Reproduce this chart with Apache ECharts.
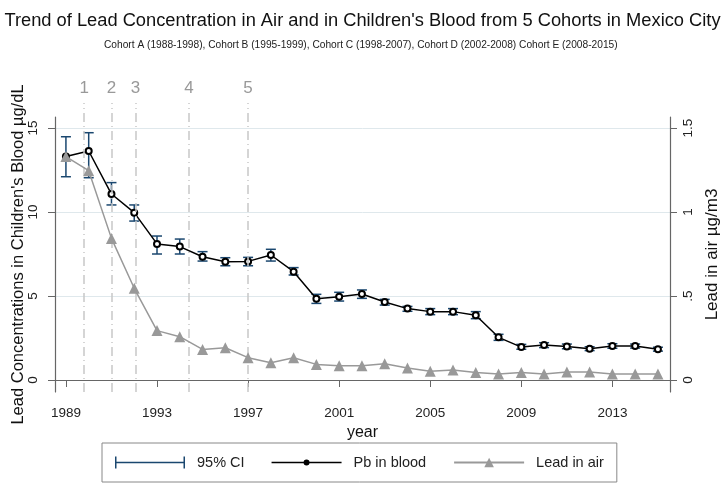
<!DOCTYPE html>
<html>
<head>
<meta charset="utf-8">
<script src="https://cdn.jsdelivr.net/npm/echarts@6/dist/echarts.min.js"></script>
<style>
  html, body { margin: 0; padding: 0; background: #fff; }
  #chart { width: 725px; height: 487px; }
</style>
</head>
<body>
<div id="chart"></div>
<script>
var years = [1989, 1990, 1991, 1992, 1993, 1994, 1995, 1996, 1997, 1998, 1999, 2000, 2001, 2002,
             2003, 2004, 2005, 2006, 2007, 2008, 2009, 2010, 2011, 2012, 2013, 2014, 2015];
var bloodPb = [13.3, 13.63, 11.07, 9.96, 8.10, 7.94, 7.34, 7.04, 7.06, 7.44, 6.45, 4.84, 4.96, 5.12,
               4.64, 4.25, 4.07, 4.07, 3.85, 2.54, 1.96, 2.08, 2.0, 1.86, 2.02, 2.02, 1.83];
var ciLow = [12.1, 12.04, 10.42, 9.46, 7.5, 7.5, 7.08, 6.8, 6.8, 7.08, 6.25, 4.56, 4.7, 4.86,
             4.46, 4.09, 3.89, 3.89, 3.65, 2.36, 1.83, 1.93, 1.86, 1.75, 1.89, 1.9, 1.72];
var ciHigh = [14.48, 14.72, 11.75, 10.42, 8.57, 8.39, 7.64, 7.28, 7.3, 7.78, 6.69, 5.1, 5.22, 5.36,
              4.8, 4.38, 4.25, 4.25, 4.07, 2.72, 2.12, 2.22, 2.14, 1.98, 2.16, 2.14, 1.95];
var airPb = [1.33, 1.246, 0.843, 0.546, 0.294, 0.258, 0.182, 0.192, 0.133, 0.103, 0.133, 0.093, 0.085, 0.085,
             0.097, 0.071, 0.052, 0.06, 0.044, 0.036, 0.044, 0.036, 0.048, 0.048, 0.036, 0.036, 0.036];

// cohort start markers
var cohortX = [1989.8, 1991, 1992.05, 1994.4, 1997];
var cohortLabels = ['1', '2', '3', '4', '5'];

var xTicks = [1989, 1993, 1997, 2001, 2005, 2009, 2013];
var leftTicks = [0, 5, 10, 15];
var rightTicks = [0, 0.5, 1, 1.5];

var font = 'Liberation Sans, Arial, sans-serif';
var axisColor = '#666';
var ciColor = '#1a476f';

var blood = years.map(function(y, i) { return [y, bloodPb[i]]; });
var air = years.map(function(y, i) { return [y, airPb[i]]; });
var ci = years.map(function(y, i) { return [y, ciLow[i], ciHigh[i]]; });

function renderCI(params, api) {
    var lo = api.coord([api.value(0), api.value(1)]);
    var hi = api.coord([api.value(0), api.value(2)]);
    var w = 5;
    var style = { stroke: ciColor, lineWidth: 1.5 };
    return {
        type: 'group',
        children: [
            { type: 'line', shape: { x1: lo[0], y1: lo[1], x2: hi[0], y2: hi[1] }, style: style },
            { type: 'line', shape: { x1: lo[0] - w, y1: lo[1], x2: lo[0] + w, y2: lo[1] }, style: style },
            { type: 'line', shape: { x1: hi[0] - w, y1: hi[1], x2: hi[0] + w, y2: hi[1] }, style: style }
        ]
    };
}

var chart = echarts.init(document.getElementById('chart'));

chart.setOption({
    backgroundColor: '#fff',
    animation: false,
    textStyle: { fontFamily: font },
    title: [{
        text: "Trend of Lead Concentration in Air and in Children's Blood from 5 Cohorts in Mexico City",
        left: 'center',
        top: 7,
        textStyle: { fontSize: 18.3, fontWeight: 'normal', color: '#111', fontFamily: font }
    }, {
        text: 'Cohort A (1988-1998), Cohort B (1995-1999), Cohort C (1998-2007), Cohort D (2002-2008) Cohort E (2008-2015)',
        left: 99,
        top: 35,
        textStyle: { fontSize: 10.2, fontWeight: 'normal', color: '#222', fontFamily: font }
    }],
    legend: {
        left: 102,
        top: 443,
        padding: [12, 13, 12, 13],
        itemWidth: 70,
        itemHeight: 12,
        itemGap: 27,
        borderColor: '#888',
        borderWidth: 1,
        textStyle: { fontSize: 14.5, color: '#222', padding: [0, 0, 0, 7] },
        data: [
            { name: '95% CI', icon: 'path://M0,0h1.5v12h-1.5z M0,5.25h70v1.5h-70z M68.5,0h1.5v12h-1.5z' },
            { name: 'Pb in blood', icon: 'path://M0,0Z M70,12Z M0,5.3h70v1.4h-70z M35,3a3,3 0 1,1 0,6a3,3 0 1,1 0,-6z' },
            'Lead in air'
        ]
    },
    grid: [
        { left: 55, right: 55, top: 117, bottom: 95, outerBoundsMode: 'none' },
        { left: 55, right: 55, top: 103, bottom: 95, outerBoundsMode: 'none' }
    ],
    xAxis: [{
        type: 'value',
        gridIndex: 0,
        min: 1988.52,
        max: 2015.53,
        name: 'year',
        nameLocation: 'middle',
        nameGap: 33,
        nameMoveOverlap: false,
        nameTextStyle: { fontSize: 16, color: '#111' },
        axisLine: { lineStyle: { color: axisColor, width: 1.2 } },
        axisTick: { customValues: xTicks, length: 7, lineStyle: { color: axisColor } },
        axisLabel: {
            customValues: xTicks, margin: 14, fontSize: 13.5, color: '#222',
            formatter: function(v) { return String(v); }
        },
        splitLine: { show: false }
    }, {
        type: 'value',
        gridIndex: 1,
        min: 1988.52,
        max: 2015.53,
        show: false
    }],
    yAxis: [{
        type: 'value',
        gridIndex: 0,
        position: 'left',
        min: -0.714,
        max: 15.655,
        name: "Lead Concentrations in Children's Blood \u00b5g/dL",
        nameLocation: 'middle',
        nameRotate: 90,
        nameGap: 28,
        nameMoveOverlap: false,
        nameTextStyle: { fontSize: 16.5, color: '#111' },
        axisLine: { show: true, lineStyle: { color: axisColor, width: 1.2 } },
        axisTick: { show: true, customValues: leftTicks, length: 7, lineStyle: { color: axisColor } },
        axisLabel: { customValues: leftTicks, rotate: 90, margin: 15, fontSize: 13.5, color: '#222' },
        splitLine: { show: true, lineStyle: { color: '#dfe8ec', width: 1 } }
    }, {
        type: 'value',
        gridIndex: 0,
        position: 'right',
        min: -0.0714,
        max: 1.5655,
        name: 'Lead in air \u00b5g/m3',
        nameLocation: 'middle',
        nameRotate: 90,
        nameGap: 34,
        nameMoveOverlap: false,
        nameTextStyle: { fontSize: 17, color: '#111' },
        axisLine: { show: true, lineStyle: { color: axisColor, width: 1.2 } },
        axisTick: { show: true, customValues: rightTicks, length: 7, lineStyle: { color: axisColor } },
        axisLabel: {
            customValues: rightTicks, rotate: 90, margin: 11, fontSize: 13.5, color: '#222',
            formatter: function(v) { return v === 0.5 ? '.5' : String(v); }
        },
        splitLine: { show: false }
    }, {
        type: 'value',
        gridIndex: 1,
        min: 0,
        max: 1,
        show: false
    }],
    series: [{
        name: 'cohorts',
        type: 'line',
        xAxisIndex: 1,
        yAxisIndex: 2,
        data: [],
        silent: true,
        markLine: {
            silent: true,
            symbol: ['none', 'none'],
            lineStyle: { color: '#c8c8c8', width: 1.5, type: [9, 4, 1, 4] },
            label: { position: 'end', distance: 6, fontSize: 17, color: '#999',
                     formatter: function(p) { return p.name; } },
            data: cohortX.map(function(x, i) { return { name: cohortLabels[i], xAxis: x }; })
        }
    }, {
        name: '95% CI',
        type: 'custom',
        xAxisIndex: 0,
        yAxisIndex: 0,
        itemStyle: { color: ciColor },
        renderItem: renderCI,
        encode: { x: 0, y: [1, 2] },
        data: ci,
        z: 3
    }, {
        name: 'Pb in blood',
        type: 'line',
        xAxisIndex: 0,
        yAxisIndex: 0,
        data: blood,
        symbol: 'emptyCircle',
        symbolSize: 6,
        lineStyle: { color: '#000', width: 1.5 },
        itemStyle: { color: '#000', borderWidth: 1.3 },
        z: 4
    }, {
        name: 'Lead in air',
        type: 'line',
        xAxisIndex: 0,
        yAxisIndex: 1,
        data: air,
        symbol: 'triangle',
        symbolSize: 11,
        lineStyle: { color: '#999', width: 1.5 },
        itemStyle: { color: '#999' },
        z: 5
    }]
});
</script>
</body>
</html>
